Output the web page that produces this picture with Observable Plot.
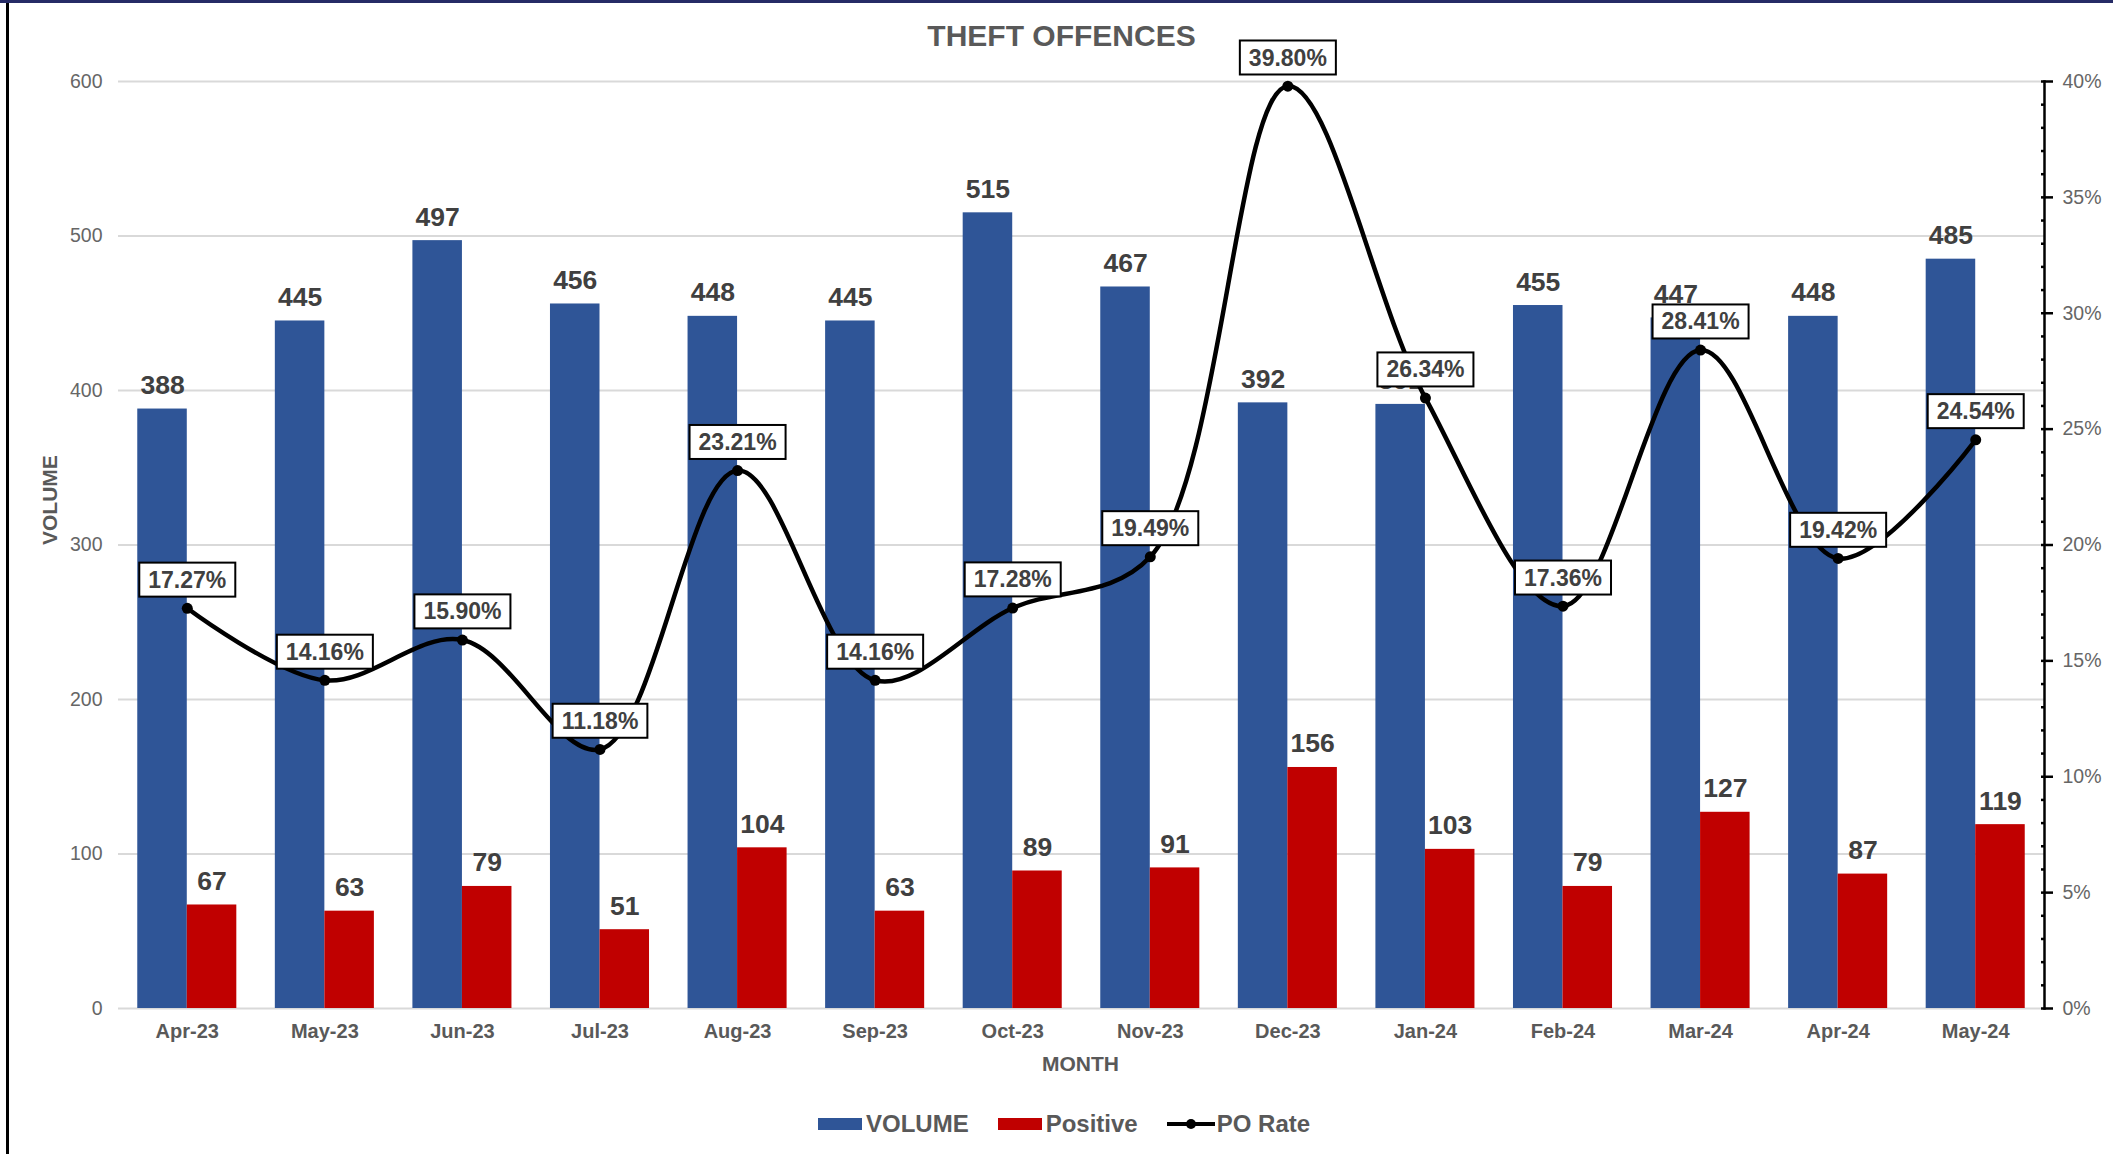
<!DOCTYPE html>
<html>
<head>
<meta charset="utf-8">
<script src="https://cdn.jsdelivr.net/npm/d3@7"></script>
<script src="https://cdn.jsdelivr.net/npm/@observablehq/plot@0.6"></script>
<style>
  html, body { margin: 0; padding: 0; background: #fff; }
  body { width: 2113px; height: 1154px; position: relative; overflow: hidden;
         font-family: "Liberation Sans", Arial, sans-serif; }
  #topline { position: absolute; left: 0; top: 0; width: 2113px; height: 3px; background: #262b66; }
  #leftline { position: absolute; left: 6px; top: 3px; width: 3px; height: 1151px; background: #000; }
  #chart { position: absolute; left: 0; top: 0; }
  #title { position: absolute; left: 5px; top: 21px; width: 2113px; text-align: center;
           font-size: 30px; line-height: 30px; font-weight: bold; color: #595959; }
  #xlabel { position: absolute; left: 24px; top: 1053px; width: 2113px; text-align: center;
            font-size: 21px; line-height: 21px; font-weight: bold; color: #595959; }
  #legend { position: absolute; left: 818px; top: 1112px; height: 24px; display: flex; align-items: center;
            font-size: 24px; line-height: 24px; font-weight: bold; color: #595959; }
  .item { display: flex; align-items: center; margin-right: 29px; }
  .sw { width: 44px; height: 12px; margin-right: 4px; }
</style>
</head>
<body>
<div id="chart"></div>
<div id="topline"></div>
<div id="leftline"></div>
<div id="title">THEFT OFFENCES</div>
<div id="xlabel">MONTH</div>
<div id="legend"></div>
<script>
// ---- data ----
const months   = ["Apr-23","May-23","Jun-23","Jul-23","Aug-23","Sep-23","Oct-23","Nov-23","Dec-23","Jan-24","Feb-24","Mar-24","Apr-24","May-24"];
const volume   = [388, 445, 497, 456, 448, 445, 515, 467, 392, 391, 455, 447, 448, 485];
const positive = [67, 63, 79, 51, 104, 63, 89, 91, 156, 103, 79, 127, 87, 119];
const poRate   = [17.27, 14.16, 15.90, 11.18, 23.21, 14.16, 17.28, 19.49, 39.80, 26.34, 17.36, 28.41, 19.42, 24.54];
const volumeTicks   = [0, 100, 200, 300, 400, 500, 600];
const rateTicks     = [0, 5, 10, 15, 20, 25, 30, 35, 40];
const rateMinorTicks = [0,1,2,3,4,5,6,7,8,9,10,11,12,13,14,15,16,17,18,19,20,21,22,23,24,25,26,27,28,29,30,31,32,33,34,35,36,37,38,39,40];
const seriesNames  = ["VOLUME", "Positive", "PO Rate"];
const seriesColors = ["#2F5597", "#C00000", "#000000"];

// ---- layout ----
const W = 2113, H = 1050, mT = 81, mB = 42, mL = 118, mR = 69;
const PAD = 0.28;
const VOL_MAX = 600, RATE_MAX = 40;
const K = VOL_MAX / RATE_MAX;               // % -> volume axis units
const step = (W - mL - mR) / months.length;
const bw = step * (1 - PAD);

const rows = months.map((m, i) => ({month: m, volume: volume[i], positive: positive[i], rate: poRate[i]}));
const textColor = "#404040", axisColor = "#666666";

const svg = Plot.plot({
  width: W, height: H,
  marginTop: mT, marginBottom: mB, marginLeft: mL, marginRight: mR,
  style: {fontFamily: '"Liberation Sans", Arial, sans-serif', background: "transparent", overflow: "visible"},
  x: {type: "band", domain: months, paddingInner: PAD, paddingOuter: PAD / 2, align: 0.5, round: false},
  y: {domain: [0, VOL_MAX]},
  marks: [
    Plot.ruleY(volumeTicks, {stroke: "#d9d9d9", strokeWidth: 2}),
    Plot.barY(rows, {x: "month", y: "volume", fill: seriesColors[0], insetLeft: 0, insetRight: bw / 2}),
    Plot.barY(rows, {x: "month", y: "positive", fill: seriesColors[1], insetLeft: bw / 2, insetRight: 0}),
    Plot.text(rows, {x: "month", y: "volume", text: d => String(d.volume), dx: -bw / 4, dy: -15,
      lineAnchor: "bottom", fontSize: 26.5, fontWeight: "bold", fill: textColor}),
    Plot.text(rows, {x: "month", y: "positive", text: d => String(d.positive), dx: bw / 4, dy: -15,
      lineAnchor: "bottom", fontSize: 26.5, fontWeight: "bold", fill: textColor}),
    Plot.line(rows, {x: "month", y: d => d.rate * K, stroke: seriesColors[2], strokeWidth: 4.5, curve: "catmull-rom"}),
    Plot.dot(rows, {x: "month", y: d => d.rate * K, r: 5.5, fill: seriesColors[2], stroke: null}),
    Plot.text(rows, {x: "month", y: d => d.rate * K, text: d => d.rate.toFixed(2) + "%", dy: -28,
      fontSize: 23, fontWeight: "bold", fill: textColor}),
    Plot.axisY(volumeTicks, {anchor: "left", tickSize: 0, tickPadding: 16, fontSize: 19.5, fill: axisColor, label: null}),
    Plot.axisX({anchor: "bottom", tickSize: 0, tickPadding: 15, fontSize: 20, fontWeight: "bold", fill: "#595959", label: null}),
    Plot.frame({anchor: "right", stroke: "black", strokeWidth: 2.5}),
    Plot.axisY(rateTicks.map(r => r * K), {anchor: "right", tickSize: 8, tickPadding: 10, stroke: "black", strokeWidth: 2.5,
      tickFormat: v => Math.round(v / K) + "%", fontSize: 19.5, fill: axisColor, label: null}),
    Plot.axisY(rateMinorTicks.map(r => r * K), {anchor: "right", tickSize: -4, stroke: "black", strokeWidth: 2.5,
      tickFormat: () => "", label: null}),
    Plot.text(["VOLUME"], {frameAnchor: "left", rotate: -90, dx: -68, fontSize: 21, fontWeight: "bold", fill: "#595959"})
  ]
});
document.getElementById("chart").append(svg);

// white boxes with black border behind the PO Rate labels
svg.querySelectorAll("text").forEach(t => {
  if (/^\d+\.\d\d%$/.test(t.textContent)) {
    const b = t.getBBox();
    const r = document.createElementNS("http://www.w3.org/2000/svg", "rect");
    r.setAttribute("x", b.x - 9);
    r.setAttribute("y", b.y - 4);
    r.setAttribute("width", b.width + 18);
    r.setAttribute("height", b.height + 8);
    r.setAttribute("fill", "white");
    r.setAttribute("stroke", "black");
    r.setAttribute("stroke-width", 2);
    if (t.getAttribute("transform")) r.setAttribute("transform", t.getAttribute("transform"));
    t.parentNode.insertBefore(r, t);
  }
});

// legend
const legend = document.getElementById("legend");
seriesNames.forEach((name, i) => {
  const item = document.createElement("div");
  item.className = "item";
  if (i < 2) {
    const sw = document.createElement("div");
    sw.className = "sw";
    sw.style.background = seriesColors[i];
    item.append(sw);
  } else {
    const s = document.createElementNS("http://www.w3.org/2000/svg", "svg");
    s.setAttribute("width", 48); s.setAttribute("height", 12);
    s.style.marginRight = "2px";
    s.innerHTML = `<line x1="0" y1="6" x2="48" y2="6" stroke="${seriesColors[i]}" stroke-width="4"/><circle cx="24" cy="6" r="5" fill="${seriesColors[i]}"/>`;
    item.append(s);
  }
  const lab = document.createElement("span");
  lab.textContent = name;
  item.append(lab);
  legend.append(item);
});
</script>
</body>
</html>
